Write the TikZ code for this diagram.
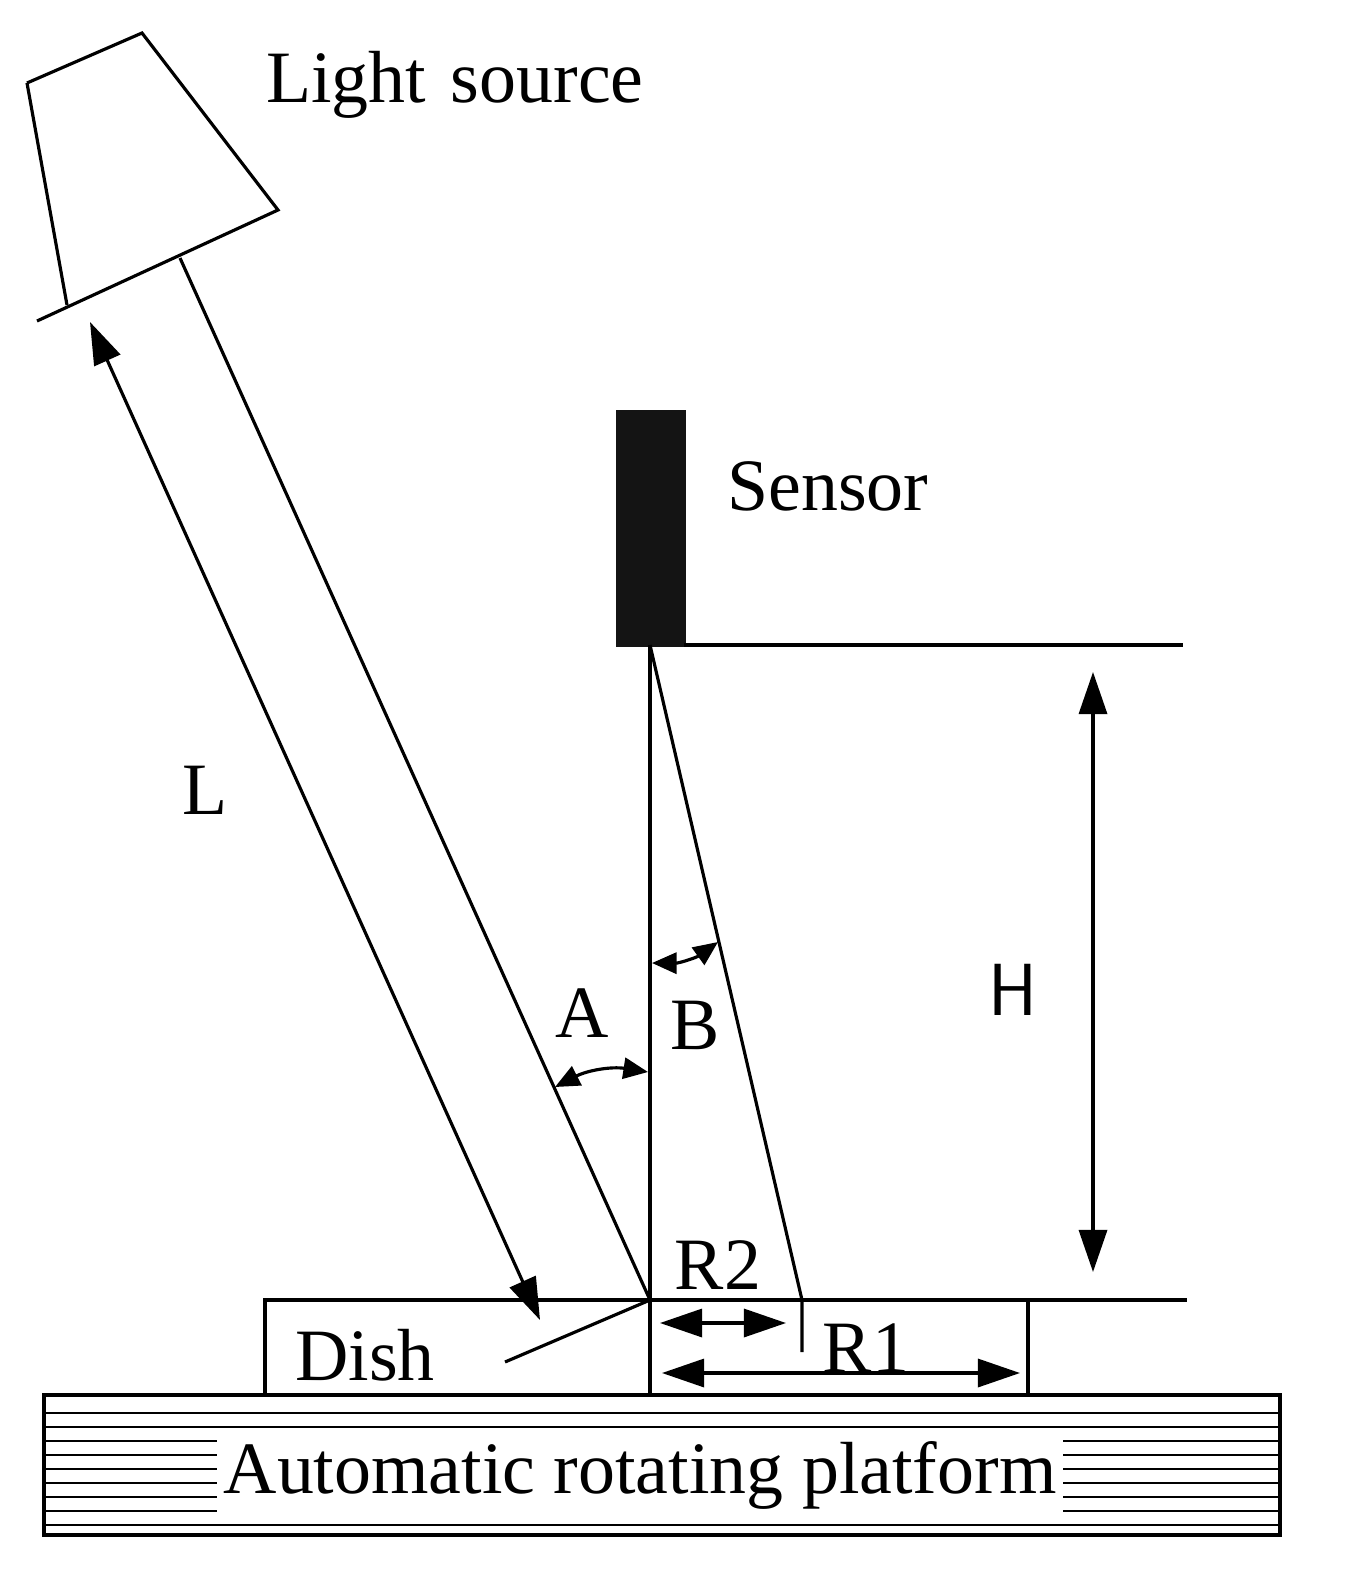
\documentclass[tikz,border=0pt]{standalone}
\usepackage{fontspec}
\setmainfont{Liberation Serif}
\usetikzlibrary{arrows.meta}
\begin{document}
\begin{tikzpicture}[x=0.01cm,y=-0.01cm,line width=0.9pt,
  lbl/.style={inner sep=0pt,font=\fontsize{21}{24}\selectfont},
  arr/.style={{Triangle[length=12pt,width=8pt]}-{Triangle[length=12pt,width=8pt]}},
  sarr/.style={{Triangle[length=7pt,width=6pt]}-{Triangle[length=7pt,width=6pt]}}]
\useasboundingbox (0,0) rectangle (1346,1588);
% lamp
\draw (27,83) -- (142,33) -- (278,210) -- (37,321);
\draw (27,83) -- (67,305);
\coordinate (beamtop) at (180,258);
\coordinate (O) at (650,1300);
\draw (beamtop) -- (O);
\draw[arr] (90,322) -- (540,1320);
% sensor
\node[fill=black!92,minimum width=0.70cm,minimum height=2.37cm,inner sep=0,anchor=north west] (sensor) at (614,408) {};
\draw (684,645) -- (1183,645);
\coordinate (S) at (650,645);
\draw (S) -- (650,1393);
\draw (S) -- (802,1300) -- (802,1352);
% dish
\draw (265,1393) -- (265,1300) -- (1187,1300);
\draw (1028,1300) -- (1028,1393);
\draw (505,1362) -- (O);
% arrows
\draw[arr] (1093,672) -- (1093,1272);
\draw[arr] (660,1323) -- (786,1323);
\draw[arr] (662,1373) -- (1020,1373);
\draw[sarr] (555,1087) to[bend left=18] (648,1072);
\draw[sarr] (652,963) to[bend right=18] (718,942);
% platform
\foreach \y in {1413,1427,...,1525} \draw[line width=0.5pt] (44,\y) -- (1280,\y);
\draw[line width=1.3pt] (44,1395) rectangle (1280,1535);
\node[lbl,fill=white,inner xsep=2pt,inner ysep=3pt] (plat) at (640,1475) {Automatic rotating platform};
% labels
\node[lbl] (ls) at (455,85) {Light\,\,source};
\node[lbl] (sn) at (828,486) {Sensor};
\node[lbl] (L) at (205,790) {L};
\node[lbl] (A) at (582,1013) {A};
\node[lbl] (B) at (695,1025) {B};
\node[lbl,font=\fontfamily{lmss}\fontsize{21}{24}\selectfont] (H) at (1013,990) {H};
\node[lbl] (R2) at (718,1265) {R2};
\node[lbl] (R1) at (866,1348) {R1};
\node[lbl] (dish) at (365,1355) {Dish};
\end{tikzpicture}
\end{document}
